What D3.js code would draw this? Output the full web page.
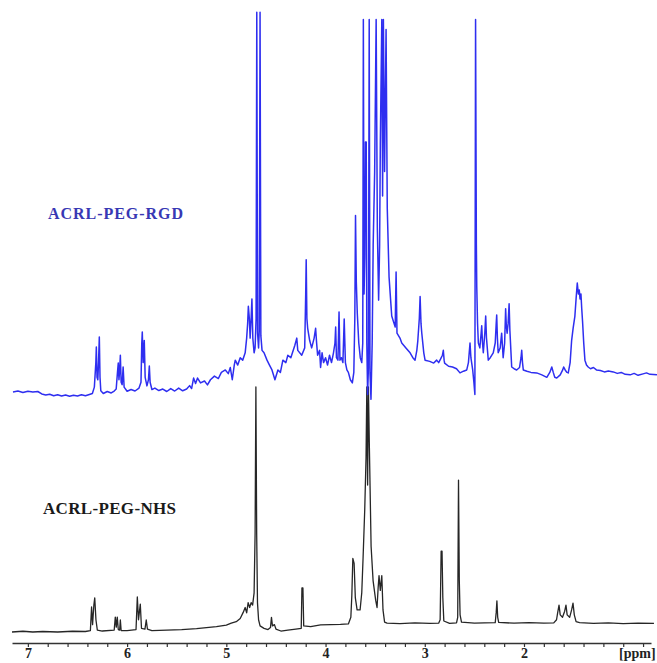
<!DOCTYPE html>
<html>
<head>
<meta charset="utf-8">
<script src="https://cdn.jsdelivr.net/npm/d3@7"></script>
<style>
  body { margin: 0; background: #fff; }
  svg { display: block; }
</style>
</head>
<body>
<div id="chart"></div>
<script>
const WIDTH = 657
const HEIGHT = 663

// Axis labels (ppm)
const majorTicks = [7, 6, 5, 4, 3, 2]
const axisUnit = '[ppm]'

const seriesNames = ['ACRL-PEG-RGD', 'ACRL-PEG-NHS']

// ACRL-PEG-NHS trace, [ppm, intensity]
const nhs = [
    [7.16, 0], [7.05, 0.3], [6.95, 0], [6.85, 0.2], [6.7, 0], [6.55, 0.3], [6.42, 0.2],
    [6.37, 0.6], [6.358, 10.2], [6.348, 3], [6.335, 11], [6.326, 13.9], [6.314, 5], [6.30, 0.8],
    [6.25, 0.4], [6.13, 0.8], [6.119, 6.1], [6.109, 2], [6.099, 6.1], [6.089, 1], [6.075, 0.8],
    [6.068, 4.9], [6.06, 0.6], [6.0, 0.6], [5.91, 1], [5.897, 14.3], [5.885, 5], [5.867, 11.4],
    [5.855, 1.5], [5.82, 1.2], [5.807, 4.9], [5.795, 1.2], [5.75, 0.6], [5.6, 0.8], [5.45, 1],
    [5.3, 1.4], [5.2, 1.8], [5.1, 2.2], [5.0, 2.8], [4.95, 3.6], [4.9, 4.2], [4.86, 5.5],
    [4.83, 8], [4.81, 10], [4.795, 7.8], [4.78, 12], [4.765, 10], [4.75, 12], [4.735, 11],
    [4.72, 16], [4.71, 40], [4.702, 100], [4.694, 40], [4.686, 12], [4.675, 5], [4.66, 2.5],
    [4.62, 1.5], [4.58, 1], [4.555, 1.8], [4.545, 6], [4.535, 2.5], [4.515, 3], [4.5, 1.2],
    [4.45, 0.4], [4.38, 0.8], [4.3, 1.2], [4.245, 1.5], [4.238, 18], [4.228, 18], [4.22, 2.5],
    [4.15, 2.2], [4.05, 2.9], [3.95, 3], [3.85, 3.1], [3.77, 3.3], [3.745, 6], [3.735, 15],
    [3.725, 30], [3.712, 28], [3.7, 14], [3.682, 9], [3.652, 9], [3.635, 16], [3.622, 30],
    [3.605, 50], [3.592, 71], [3.584, 100], [3.576, 60], [3.568, 100], [3.558, 75], [3.541, 35],
    [3.521, 21], [3.495, 13], [3.481, 10], [3.47, 18], [3.461, 23], [3.448, 17], [3.433, 23],
    [3.421, 9], [3.405, 4], [3.38, 3.6], [3.25, 3.4], [3.1, 3.7], [2.95, 3.5], [2.86, 3.6],
    [2.845, 5], [2.835, 33], [2.826, 33], [2.818, 14], [2.808, 4.5], [2.75, 3.5], [2.68, 3.7],
    [2.668, 6], [2.66, 62], [2.652, 21], [2.644, 7], [2.63, 4], [2.5, 3.6], [2.4, 3.7],
    [2.29, 3.8], [2.28, 8], [2.273, 12.7], [2.265, 6], [2.255, 3.9], [2.1, 3.6], [1.95, 3.8],
    [1.8, 3.6], [1.7, 3.7], [1.672, 5], [1.66, 8], [1.647, 11], [1.635, 7], [1.612, 6],
    [1.59, 8.5], [1.577, 11], [1.565, 7], [1.54, 6], [1.52, 9], [1.506, 11.8], [1.493, 7],
    [1.475, 4.2], [1.44, 3.8], [1.3, 3.5], [1.15, 3.7], [1.0, 3.4], [0.85, 3.6], [0.69, 3.5]
]

// ACRL-PEG-RGD trace, [ppm, intensity]
const rgd = [
    [7.15, 0], [7.10, 0.4], [7.05, -0.2], [7.0, 0.3], [6.95, 0], [6.90, 0.2], [6.86, -0.8],
    [6.82, -1.2], [6.78, -0.9], [6.74, -1.5], [6.70, -1.1], [6.66, -1.6], [6.62, -1.2],
    [6.58, -1.7], [6.54, -1.3], [6.50, -1.6], [6.46, -1.1], [6.42, -1.5], [6.38, -1.0],
    [6.35, -0.6], [6.33, 2], [6.315, 12], [6.31, 18.4], [6.303, 6], [6.295, 5], [6.288, 12],
    [6.28, 22.4], [6.273, 6], [6.265, 0.5], [6.24, -0.6], [6.2, 0.2], [6.16, -0.4], [6.13, 0.4],
    [6.11, 1.2], [6.097, 8], [6.089, 11.8], [6.082, 5], [6.075, 9], [6.068, 15], [6.06, 4],
    [6.05, 3], [6.04, 10.2], [6.03, 2], [6.0, 0.3], [5.96, 1], [5.92, 0.4], [5.88, 1.6],
    [5.86, 4], [5.852, 20], [5.847, 24.5], [5.838, 12], [5.827, 21], [5.818, 6], [5.80, 2.5],
    [5.785, 5], [5.776, 10.6], [5.768, 4], [5.75, 1], [5.72, 1.6], [5.68, 0.6], [5.64, 1.2],
    [5.60, 0.2], [5.56, 1.4], [5.52, 0.4], [5.48, 1.6], [5.44, 0.5], [5.40, 1.2], [5.37, 2.6],
    [5.35, 1.4], [5.33, 5.7], [5.31, 3.5], [5.29, 5.7], [5.26, 3.7], [5.22, 4.5], [5.19, 2.9],
    [5.16, 5], [5.12, 6.5], [5.08, 5.5], [5.05, 8], [5.01, 9], [4.98, 7.5], [4.96, 10],
    [4.94, 5], [4.92, 11], [4.91, 13], [4.885, 11], [4.86, 14], [4.835, 13], [4.81, 16],
    [4.795, 22], [4.785, 28], [4.778, 35], [4.768, 30], [4.76, 22], [4.75, 30], [4.742, 38],
    [4.733, 22], [4.72, 16], [4.71, 18], [4.70, 30], [4.693, 155], [4.685, 24], [4.675, 18],
    [4.668, 25], [4.66, 155], [4.652, 23], [4.64, 17], [4.62, 16], [4.59, 13], [4.565, 11],
    [4.54, 9], [4.51, 5], [4.48, 9], [4.455, 8], [4.43, 13], [4.40, 12], [4.38, 15], [4.35, 14],
    [4.31, 19], [4.29, 22], [4.28, 17], [4.24, 15], [4.21, 18], [4.2, 40], [4.195, 54],
    [4.188, 30], [4.18, 26], [4.16, 21], [4.14, 18], [4.115, 22], [4.10, 26], [4.09, 20],
    [4.08, 15], [4.06, 17], [4.05, 10], [4.035, 16], [4.02, 12], [4.0, 14], [3.98, 11],
    [3.96, 15], [3.94, 12], [3.92, 16], [3.905, 20], [3.898, 26.5], [3.89, 14], [3.875, 13],
    [3.864, 32.7], [3.855, 13], [3.84, 14], [3.825, 12], [3.812, 29.8], [3.80, 12], [3.785, 9],
    [3.77, 8], [3.75, 5], [3.73, 3.7], [3.715, 8], [3.705, 30], [3.698, 72], [3.69, 45],
    [3.68, 32], [3.665, 20], [3.65, 14], [3.635, 12], [3.625, 20], [3.619, 152], [3.612, 40],
    [3.604, 55], [3.598, 102], [3.59, 102], [3.584, 20], [3.576, -1], [3.568, 10], [3.56, 152],
    [3.552, 8], [3.542, -3], [3.53, 20], [3.52, 60], [3.505, 90], [3.49, 152], [3.478, 67],
    [3.465, 37.5], [3.455, 60], [3.448, 101], [3.433, 152], [3.425, 80], [3.417, 152],
    [3.405, 90], [3.39, 148], [3.378, 75], [3.36, 47], [3.345, 38], [3.333, 31], [3.31, 28],
    [3.298, 26.5], [3.289, 49], [3.28, 24], [3.25, 22], [3.232, 20], [3.19, 18], [3.148, 16],
    [3.12, 14], [3.098, 13], [3.08, 17], [3.07, 21], [3.055, 30], [3.047, 39], [3.038, 28],
    [3.03, 24], [3.01, 16], [2.997, 13], [2.95, 12.5], [2.91, 11.8], [2.88, 13], [2.86, 12],
    [2.84, 13.5], [2.822, 15], [2.813, 17], [2.805, 13], [2.8, 11.8], [2.76, 10.5], [2.72, 10.2],
    [2.68, 9.5], [2.645, 7.8], [2.61, 8.5], [2.577, 9], [2.56, 12], [2.55, 17], [2.544, 20],
    [2.535, 14], [2.517, 9], [2.505, 4], [2.495, -1], [2.488, 152], [2.48, 60], [2.476, 43],
    [2.468, 28], [2.46, 20], [2.445, 18], [2.432, 24], [2.426, 27], [2.418, 20], [2.41, 16],
    [2.395, 24], [2.386, 31], [2.378, 22], [2.36, 13], [2.34, 14], [2.31, 16], [2.29, 20],
    [2.28, 28], [2.275, 31.4], [2.268, 22], [2.26, 16], [2.24, 18], [2.225, 24], [2.21, 14],
    [2.195, 20], [2.185, 34], [2.178, 27], [2.17, 24], [2.16, 28], [2.15, 36], [2.142, 25],
    [2.124, 10.2], [2.1, 9.5], [2.074, 9], [2.045, 10], [2.03, 14], [2.023, 17], [2.015, 12],
    [2.007, 9], [1.97, 8.5], [1.93, 8], [1.872, 7.8], [1.82, 7], [1.77, 6], [1.74, 8],
    [1.72, 10.2], [1.705, 8], [1.69, 6], [1.67, 5.7], [1.635, 7], [1.61, 9], [1.6, 10.2],
    [1.585, 9], [1.568, 8], [1.554, 7.8], [1.535, 12], [1.52, 21], [1.505, 26], [1.487, 31],
    [1.475, 38], [1.463, 44.5], [1.452, 40], [1.443, 41.6], [1.435, 38], [1.426, 40],
    [1.418, 34], [1.41, 29], [1.398, 20], [1.386, 13], [1.37, 11], [1.353, 10.2], [1.33, 9.5],
    [1.3, 10], [1.27, 9], [1.23, 8.8], [1.19, 8.2], [1.15, 8.6], [1.10, 8.2], [1.06, 7.6],
    [1.02, 8], [0.98, 7.2], [0.93, 7], [0.89, 7.6], [0.85, 6.8], [0.80, 7.4], [0.765, 7.8],
    [0.73, 7.2], [0.66, 7]
]

const FONT = '"Liberation Serif", "Times New Roman", serif'

const svg = d3.select('#chart')
    .append('svg')
    .attr('width', WIDTH)
    .attr('height', HEIGHT)

// ppm runs right to left
const x = d3.scaleLinear().domain([7.16, 0.72]).range([12, 651])
const yNhs = d3.scaleLinear().domain([0, 100]).range([632, 387])
const yRgd = d3.scaleLinear().domain([0, 100]).range([392, 147])

const lineNhs = d3.line().x(d => x(d[0])).y(d => yNhs(d[1]))
const lineRgd = d3.line().x(d => x(d[0])).y(d => yRgd(d[1]))

svg.append('path')
    .datum(nhs)
    .attr('d', lineNhs)
    .attr('fill', 'none')
    .attr('stroke', '#262626')
    .attr('stroke-width', 1.3)
    .attr('stroke-linejoin', 'round')

svg.append('path')
    .datum(rgd)
    .attr('d', lineRgd)
    .attr('fill', 'none')
    .attr('stroke', '#2e2ef0')
    .attr('stroke-width', 1.5)
    .attr('stroke-linejoin', 'round')

// Axis: minor ticks every 0.2 ppm, labels on integers
const tickVals = d3.range(4, 36).map(i => i / 5)
const axis = d3.axisBottom(x)
    .tickValues(tickVals)
    .tickSize(4)
    .tickSizeOuter(0)
    .tickPadding(1)
    .tickFormat(d => majorTicks.includes(Math.round(d * 5) / 5) ? d3.format('d')(d) : '')

const gAxis = svg.append('g')
    .attr('transform', 'translate(0,643)')
    .call(axis)

gAxis.select('.domain').attr('stroke', '#333').attr('stroke-width', 1.4)
gAxis.selectAll('.tick line').attr('stroke', '#333').attr('stroke-width', 1.2)
gAxis.selectAll('.tick text')
    .attr('fill', '#222')
    .style('font-family', FONT)
    .style('font-weight', 'bold')
    .style('font-size', '14px')

svg.append('text')
    .attr('x', 619)
    .attr('y', 658)
    .attr('fill', '#222')
    .style('font-family', FONT)
    .style('font-weight', 'bold')
    .style('font-size', '14px')
    .text(axisUnit)

// Series labels
svg.append('text')
    .attr('x', 48)
    .attr('y', 219)
    .attr('textLength', 135)
    .attr('fill', '#3838b4')
    .style('font-family', FONT)
    .style('font-weight', 'bold')
    .style('font-size', '16px')
    .text(seriesNames[0])

svg.append('text')
    .attr('x', 43)
    .attr('y', 514)
    .attr('textLength', 133)
    .attr('fill', '#1a1a1a')
    .style('font-family', FONT)
    .style('font-weight', 'bold')
    .style('font-size', '17px')
    .text(seriesNames[1])
</script>
</body>
</html>
